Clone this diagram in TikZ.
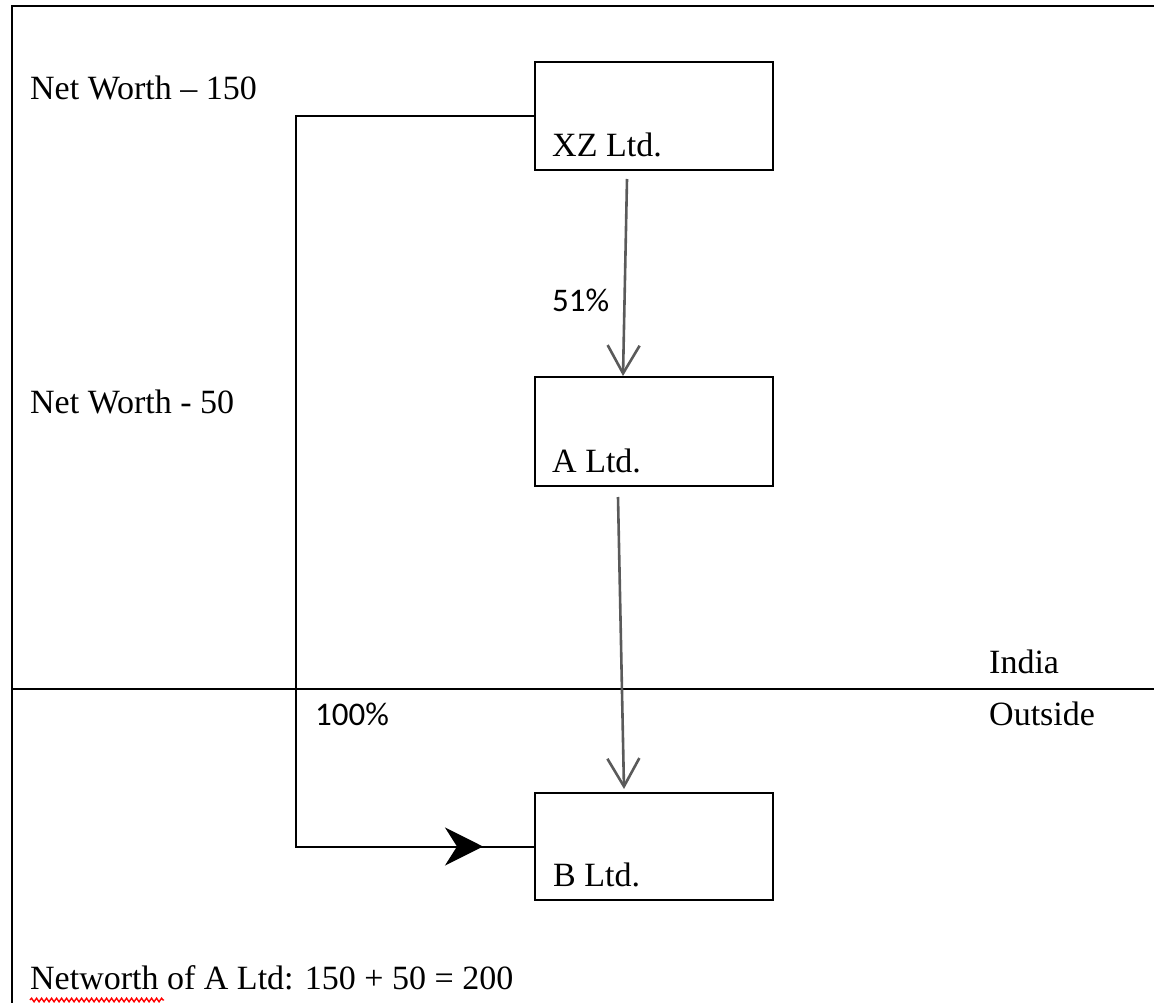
\documentclass[tikz,border=0pt]{standalone}
\usepackage{fontspec}
\setmainfont{Liberation Serif}
\newfontfamily\pctfont{Carlito}
\usetikzlibrary{arrows.meta,calc,decorations.pathmorphing}
\definecolor{arrowgray}{HTML}{5A5A5A}
\tikzset{
  txt/.style={font=\fontsize{34}{40}\selectfont, inner sep=0pt, anchor=base west},
  pct/.style={font=\pctfont\fontsize{33}{38}\selectfont, inner sep=0pt, anchor=base west},
  entity/.style={draw=black, line width=2pt, minimum width=238pt, inner sep=0pt},
  frameline/.style={line width=2.4pt},
  divider/.style={line width=2pt},
  link/.style={line width=2pt},
  ownarrow/.style={draw=arrowgray, line width=2.6pt,
    -{Straight Barb[length=28pt,width=32pt,line width=2.6pt]}},
  headtip/.style={-{Stealth[length=38pt,width=38pt,inset=12pt]}, line width=2pt}
}
\begin{document}
\begin{tikzpicture}[x=1pt,y=-1pt]
  \useasboundingbox (0,0) rectangle (1154,1003);

  % outer frame (top and left edges) and the India / Outside divider
  \coordinate (frameTR) at (1154,6);
  \coordinate (frameTL) at (12,6);
  \coordinate (frameBL) at (12,1003);
  \draw[frameline] (frameTR) -- (frameTL) -- (frameBL);
  \coordinate (divL) at (12,689);
  \coordinate (divR) at (1154,689);
  \draw[divider] (divL) -- (divR);

  % entities
  \node[entity, minimum height=108pt] (xz) at (654,116) {};
  \node[entity, minimum height=109pt] (a) at (654,431.5) {};
  \node[entity, minimum height=107pt] (b) at (654,846.5) {};
  \node[txt] (xzlbl) at (552,157) {XZ Ltd.};
  \node[txt] (albl) at (552,472) {A Ltd.};
  \node[txt] (blbl) at (553,886) {B Ltd.};

  % side notes
  \node[txt] (nw150) at (30,100) {Net Worth – 150};
  \node[txt] (nw50) at (30,413) {Net Worth - 50};
  \node[txt] (india) at (989,673) {India};
  \node[txt] (outside) at (989,725) {Outside};
  \node[txt] (total) at (30,989) {Networth of A Ltd: 150 + 50 = 200};
  \draw[red, line width=1.4pt, decorate,
        decoration={snake, amplitude=1.8pt, segment length=5pt}]
    ($(total.base west)+(0,11)$) -- ++(134,0);

  % shareholdings
  \draw[ownarrow] ($(xz.south)+(-27,8)$) -- ($(a.north)+(-31,0)$);
  \node[pct] (p51) at (552,311) {51\%};
  \draw[ownarrow] ($(a.south)+(-36,10)$) -- ($(b.north)+(-30,-3)$);

  \coordinate (bend) at (296,116);
  \draw[link] (xz.west) -- (bend) |- (b.west);
  \draw[headtip] ($(b.west)+(-92,0)$) -- ($(b.west)+(-51,0)$);
  \node[pct] (p100) at (315,725) {100\%};
\end{tikzpicture}
\end{document}
